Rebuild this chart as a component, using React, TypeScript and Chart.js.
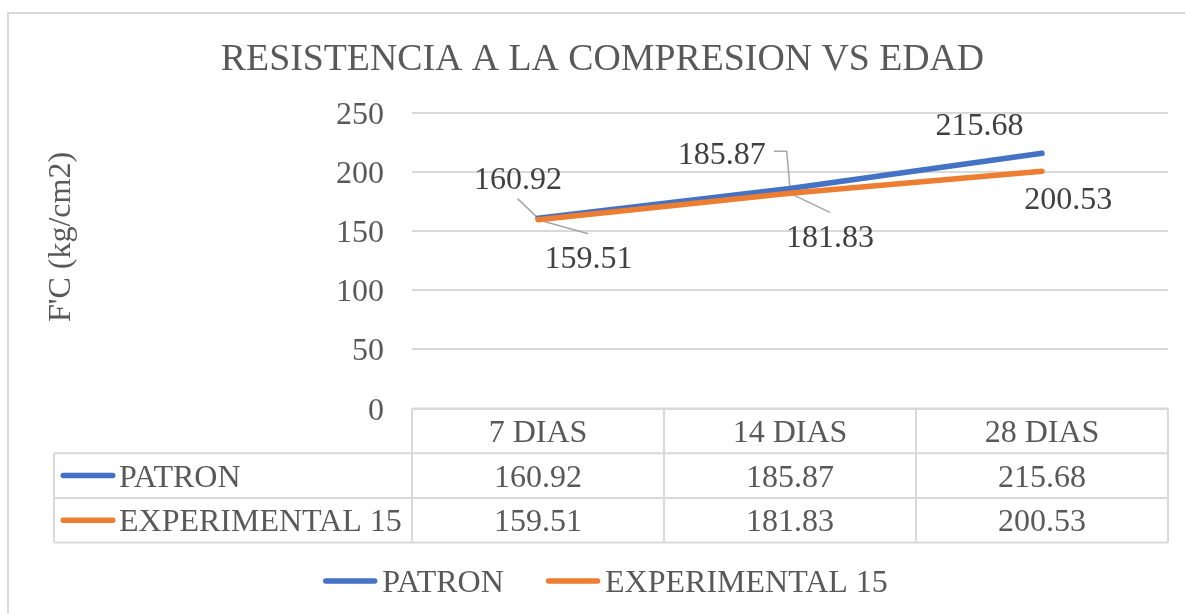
import React, { useEffect, useRef } from "react";
import { Chart, registerables } from "chart.js";

Chart.register(...registerables);

// ---- data ----
const categories = ["7 DIAS", "14 DIAS", "28 DIAS"];
const seriesNames = ["PATRON", "EXPERIMENTAL 15"];
const patron = [160.92, 185.87, 215.68];
const experimental = [159.51, 181.83, 200.53];
const yTickValues = [0, 50, 100, 150, 200, 250];
const chartTitle = "RESISTENCIA A LA COMPRESION VS EDAD";
const yAxisTitle = "F'C (kg/cm2)";

// ---- styles ----
const FONT = "'Liberation Serif', 'Times New Roman', serif";
const BLUE = "#4472C4";
const ORANGE = "#ED7D31";
const TEXT = "#595959";
const LABEL_TEXT = "#404040";
const GRID = "#D9D9D9";
const LEADER = "#A6A6A6";
const BODY_SIZE = 32;
const TABLE_H = 134;
const TABLE_LEFT = 54;
const Y_FIX = 2.5; // optical correction for 'middle' baseline

// data-label offsets (px from point) and leader anchors (px from label centre)
const labelOffsets = [
  [[-20, -40], [-68.3, -35], [-62.5, -29.6]],
  [[50.5, 37.4], [40, 42.3], [26.3, 26.7]],
];
const leaderAnchors: (null | { a: number[]; elbow?: number[] })[][] = [
  [{ a: [-0.5, 20.5] }, { a: [52.3, -2.3], elbow: [12.7, 0] }, null],
  [{ a: [-0.3, -23.5] }, { a: [0, -23.3] }, null],
];

const seriesColors = [BLUE, ORANGE];
const seriesValues = [patron, experimental];

const decorPlugin = {
  id: "decor",
  beforeDraw(chart: any) {
    const ctx = chart.ctx;
    ctx.save();
    ctx.strokeStyle = GRID;
    ctx.lineWidth = 2;
    ctx.strokeRect(8, 13, 3000, 3000);
    // y-axis title
    ctx.font = `${BODY_SIZE}px ${FONT}`;
    ctx.fillStyle = TEXT;
    ctx.textAlign = "center";
    ctx.textBaseline = "middle";
    ctx.translate(62, 237);
    ctx.rotate(-Math.PI / 2);
    ctx.fillText(yAxisTitle, 0, 0);
    ctx.restore();
  },
  beforeDatasetsDraw(chart: any) {
    const ctx = chart.ctx;
    ctx.save();
    ctx.strokeStyle = LEADER;
    ctx.lineWidth = 1.5;
    seriesValues.forEach((vals, s) => {
      const meta = chart.getDatasetMeta(s);
      vals.forEach((_v, i) => {
        const ld = leaderAnchors[s][i];
        if (!ld) return;
        const pt = meta.data[i];
        const lx = pt.x + labelOffsets[s][i][0];
        const ly = pt.y + labelOffsets[s][i][1];
        ctx.beginPath();
        const ax = lx + ld.a[0];
        const ay = ly + ld.a[1];
        ctx.moveTo(ax, ay);
        if (ld.elbow) ctx.lineTo(ax + ld.elbow[0], ay + ld.elbow[1]);
        ctx.lineTo(pt.x, pt.y);
        ctx.stroke();
      });
    });
    ctx.restore();
  },
  afterDatasetsDraw(chart: any) {
    const ctx = chart.ctx;
    ctx.save();
    ctx.font = `${BODY_SIZE}px ${FONT}`;
    ctx.fillStyle = LABEL_TEXT;
    ctx.textAlign = "center";
    ctx.textBaseline = "middle";
    seriesValues.forEach((vals, s) => {
      const meta = chart.getDatasetMeta(s);
      vals.forEach((v, i) => {
        const pt = meta.data[i];
        ctx.fillText(v.toFixed(2), pt.x + labelOffsets[s][i][0], pt.y + labelOffsets[s][i][1] + Y_FIX);
      });
    });
    ctx.restore();
  },
  afterDraw(chart: any) {
    const ctx = chart.ctx;
    const area = chart.chartArea;
    const xs = chart.scales.x;
    const n = categories.length;
    const colW = (area.right - area.left) / n;
    const top = area.bottom;
    const rowH = xs.height / 3;
    const bottom = top + rowH * 3;
    ctx.save();
    ctx.strokeStyle = GRID;
    ctx.lineWidth = 2;
    ctx.beginPath();
    ctx.moveTo(area.left, top);
    ctx.lineTo(area.right, top);
    for (let r = 1; r <= 3; r++) {
      ctx.moveTo(TABLE_LEFT, top + rowH * r);
      ctx.lineTo(area.right, top + rowH * r);
    }
    for (let c = 0; c <= n; c++) {
      const x = area.left + colW * c;
      ctx.moveTo(x, top);
      ctx.lineTo(x, bottom);
    }
    ctx.moveTo(TABLE_LEFT, top + rowH);
    ctx.lineTo(TABLE_LEFT, bottom);
    ctx.stroke();

    ctx.font = `${BODY_SIZE}px ${FONT}`;
    ctx.fillStyle = TEXT;
    ctx.textBaseline = "middle";
    ctx.textAlign = "center";
    categories.forEach((c, i) => {
      const cx = xs.getPixelForValue(i);
      ctx.fillText(c, cx, top + rowH / 2 + Y_FIX);
      seriesValues.forEach((vals, s) => {
        ctx.fillText(vals[i].toFixed(2), cx, top + rowH * (s + 1.5) + Y_FIX);
      });
    });
    ctx.lineCap = "round";
    ctx.lineWidth = 5.5;
    seriesNames.forEach((name, s) => {
      const cy = top + rowH * (s + 1.5);
      ctx.strokeStyle = seriesColors[s];
      ctx.beginPath();
      ctx.moveTo(TABLE_LEFT + 9.25, cy);
      ctx.lineTo(TABLE_LEFT + 58.75, cy);
      ctx.stroke();
      ctx.textAlign = "left";
      ctx.fillStyle = TEXT;
      ctx.fillText(name, TABLE_LEFT + 65, cy + Y_FIX);
    });

    // legend
    const legendY = bottom + 38.4;
    const lineLen = 49;
    const gap = 7.5;
    const itemGap = 44.8;
    const widths = seriesNames.map((nm) => ctx.measureText(nm).width);
    const total = widths.reduce((a, w) => a + lineLen + gap + w, 0) + itemGap * (seriesNames.length - 1);
    let x = 606.75 - total / 2;
    seriesNames.forEach((nm, s) => {
      ctx.strokeStyle = seriesColors[s];
      ctx.beginPath();
      ctx.moveTo(x, legendY);
      ctx.lineTo(x + lineLen, legendY);
      ctx.stroke();
      ctx.fillStyle = TEXT;
      ctx.textAlign = "left";
      ctx.fillText(nm, x + lineLen + gap, legendY + Y_FIX);
      x += lineLen + gap + widths[s] + itemGap;
    });
    ctx.restore();
  },
};

export default function App() {
  const ref = useRef<HTMLCanvasElement>(null);
  useEffect(() => {
    const canvas = ref.current!;
    const chart = new Chart(canvas, {
      type: "line",
      data: {
        labels: categories,
        datasets: [
          {
            label: seriesNames[0],
            data: patron,
            borderColor: BLUE,
            backgroundColor: BLUE,
            borderWidth: 5.5,
            borderCapStyle: "round",
            borderJoinStyle: "round",
            pointRadius: 0,
            pointHoverRadius: 0,
            tension: 0,
            fill: false,
            order: 2,
          },
          {
            label: seriesNames[1],
            data: experimental,
            borderColor: ORANGE,
            backgroundColor: ORANGE,
            borderWidth: 5.5,
            borderCapStyle: "round",
            borderJoinStyle: "round",
            pointRadius: 0,
            pointHoverRadius: 0,
            tension: 0,
            fill: false,
            order: 1,
          },
        ],
      },
      options: {
        responsive: false,
        animation: false,
        devicePixelRatio: 1,
        events: [],
        layout: { padding: { left: 37, right: 17, top: 13, bottom: 71.4 } },
        plugins: {
          legend: { display: false },
          tooltip: { enabled: false },
          title: {
            display: true,
            text: chartTitle,
            color: TEXT,
            font: { family: FONT, size: 37.8, weight: "normal" },
            padding: { top: 24, bottom: 30.3 },
          },
        },
        scales: {
          x: {
            type: "category",
            offset: true,
            grid: { display: false, drawTicks: false },
            border: { display: false },
            ticks: { display: false },
            afterFit: (s: any) => {
              s.height = TABLE_H;
            },
          },
          y: {
            min: 0,
            max: 250,
            grid: { color: GRID, lineWidth: 2, drawTicks: false },
            border: { display: false },
            ticks: {
              stepSize: 50,
              padding: 28,
              labelOffset: Y_FIX,
              color: TEXT,
              font: { family: FONT, size: BODY_SIZE },
            },
            afterBuildTicks: (s: any) => {
              s.ticks = yTickValues.map((v) => ({ value: v }));
            },
            title: { display: false },
            afterFit: (s: any) => {
              s.width = 375;
            },
          },
        },
      },
      plugins: [decorPlugin],
    } as any);
    return () => chart.destroy();
  }, []);
  return (
    <div style={{ position: "fixed", left: 0, top: 0, width: 1185, height: 614, background: "#fff", overflow: "hidden" }}>
      <canvas ref={ref} width={1185} height={614} style={{ display: "block" }} />
    </div>
  );
}
